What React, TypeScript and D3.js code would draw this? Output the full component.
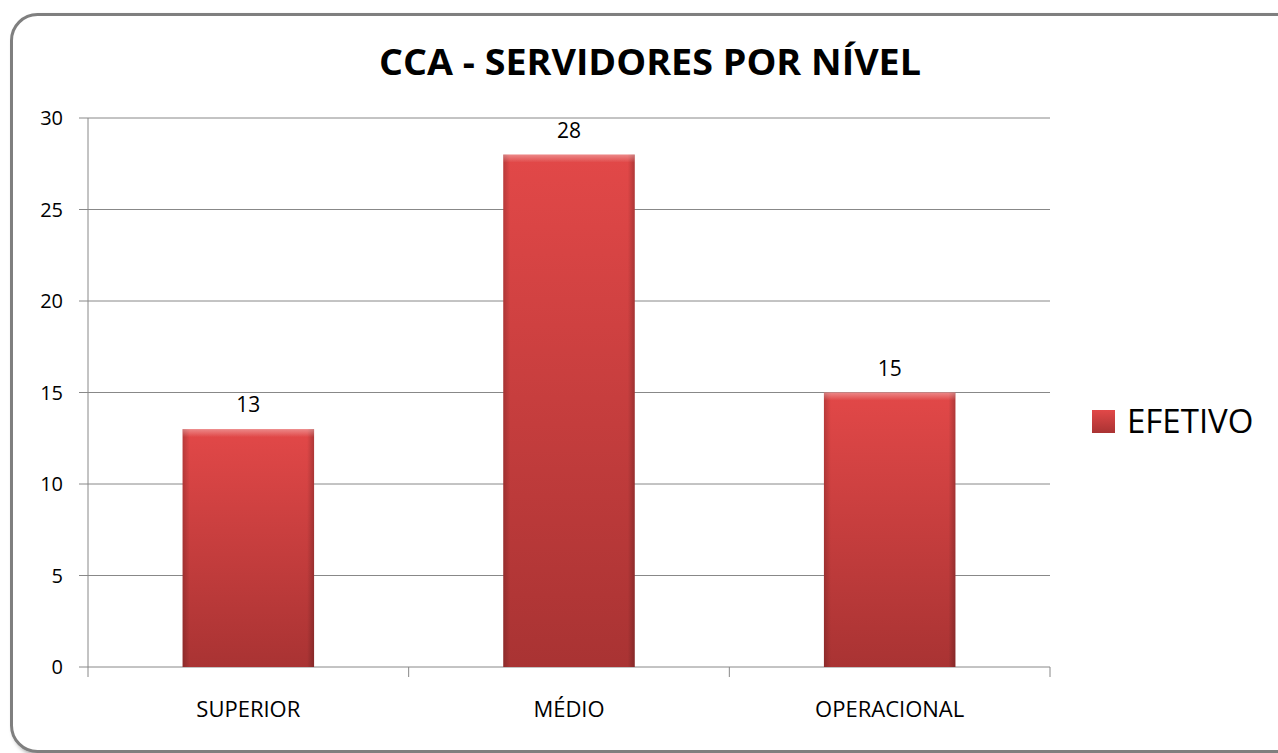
import React from "react";
import * as d3 from "d3";

const categories = ["SUPERIOR", "MÉDIO", "OPERACIONAL"];
const values = [13, 28, 15];
const yTicks = [0, 5, 10, 15, 20, 25, 30];
const seriesName = "EFETIVO";
const title = "CCA - SERVIDORES POR NÍVEL";

export default function App() {
  const W = 1278, H = 753;
  const left = 88, right = 1050, top = 118, bottom = 667;
  const y = d3.scaleLinear().domain([0, 30]).range([bottom, top]);
  const x = d3.scaleBand().domain(categories).range([left, right]).paddingInner(0.59).paddingOuter(0.295);
  const font = "'Open Sans', 'Liberation Sans', sans-serif";
  const bw = x.bandwidth();
  return (
    <svg width={W} height={H} style={{ position: "absolute", left: 0, top: 0 }}>
      <defs>
        <linearGradient id="barV" x1="0" y1="0" x2="0" y2="1">
          <stop offset="0" stopColor="#e24848" />
          <stop offset="1" stopColor="#a93333" />
        </linearGradient>
        <linearGradient id="edgeL" x1="0" y1="0" x2="1" y2="0">
          <stop offset="0" stopColor="#000" stopOpacity="0.18" />
          <stop offset="1" stopColor="#000" stopOpacity="0" />
        </linearGradient>
        <linearGradient id="edgeR" x1="1" y1="0" x2="0" y2="0">
          <stop offset="0" stopColor="#000" stopOpacity="0.22" />
          <stop offset="1" stopColor="#000" stopOpacity="0" />
        </linearGradient>
        <linearGradient id="edgeT" x1="0" y1="0" x2="0" y2="1">
          <stop offset="0" stopColor="#fff" stopOpacity="0.35" />
          <stop offset="1" stopColor="#fff" stopOpacity="0" />
        </linearGradient>
        <filter id="shadow" x="-5%" y="-5%" width="110%" height="110%">
          <feDropShadow dx="3" dy="3" stdDeviation="2" floodColor="#000" floodOpacity="0.35" />
        </filter>
      </defs>
      <rect x={0} y={0} width={W} height={H} fill="#fff" />
      <rect x={11.5} y={14.5} width={1300} height={737} rx={26} ry={26} fill="#fff" stroke="#7f7f7f" strokeWidth={3} filter="url(#shadow)" />
      <text x={650} y={75} textAnchor="middle" fontFamily={font} fontWeight="bold" fontSize={35} textLength={542} lengthAdjust="spacingAndGlyphs" fill="#000">{title}</text>
      {yTicks.map((t) => (
        <g key={t}>
          <line x1={left - 9} x2={right} y1={y(t)} y2={y(t)} stroke="#888" strokeWidth={1} />
          <text x={63} y={y(t) + 7} textAnchor="end" fontFamily={font} fontSize={20} fill="#000">{t}</text>
        </g>
      ))}
      <line x1={left} x2={left} y1={top} y2={bottom + 10} stroke="#888" strokeWidth={1} />
      {categories.map((c, i) => {
        const xe = left + ((right - left) / categories.length) * (i + 1);
        return <line key={c} x1={xe} x2={xe} y1={bottom} y2={bottom + 10} stroke="#888" strokeWidth={1} />;
      })}
      {categories.map((c, i) => {
        const bx = x(c)!;
        const by = y(values[i]);
        const bh = bottom - by;
        return (
          <g key={c}>
            <rect x={bx} y={by} width={bw} height={bh} fill="url(#barV)" />
            <rect x={bx} y={by} width={7} height={bh} fill="url(#edgeL)" />
            <rect x={bx + bw - 7} y={by} width={7} height={bh} fill="url(#edgeR)" />
            <rect x={bx} y={by} width={bw} height={8} fill="url(#edgeT)" />
            <text x={bx + bw / 2} y={by - 17} textAnchor="middle" fontFamily={font} fontSize={21} fill="#000">{values[i]}</text>
            <text x={bx + bw / 2} y={717} textAnchor="middle" fontFamily={font} fontSize={22} fill="#000">{c}</text>
          </g>
        );
      })}
      <rect x={1092} y={410} width={23} height={23} fill="url(#barV)" />
      <text x={1127} y={433} fontFamily={font} fontSize={33} fill="#000">{seriesName}</text>
    </svg>
  );
}
